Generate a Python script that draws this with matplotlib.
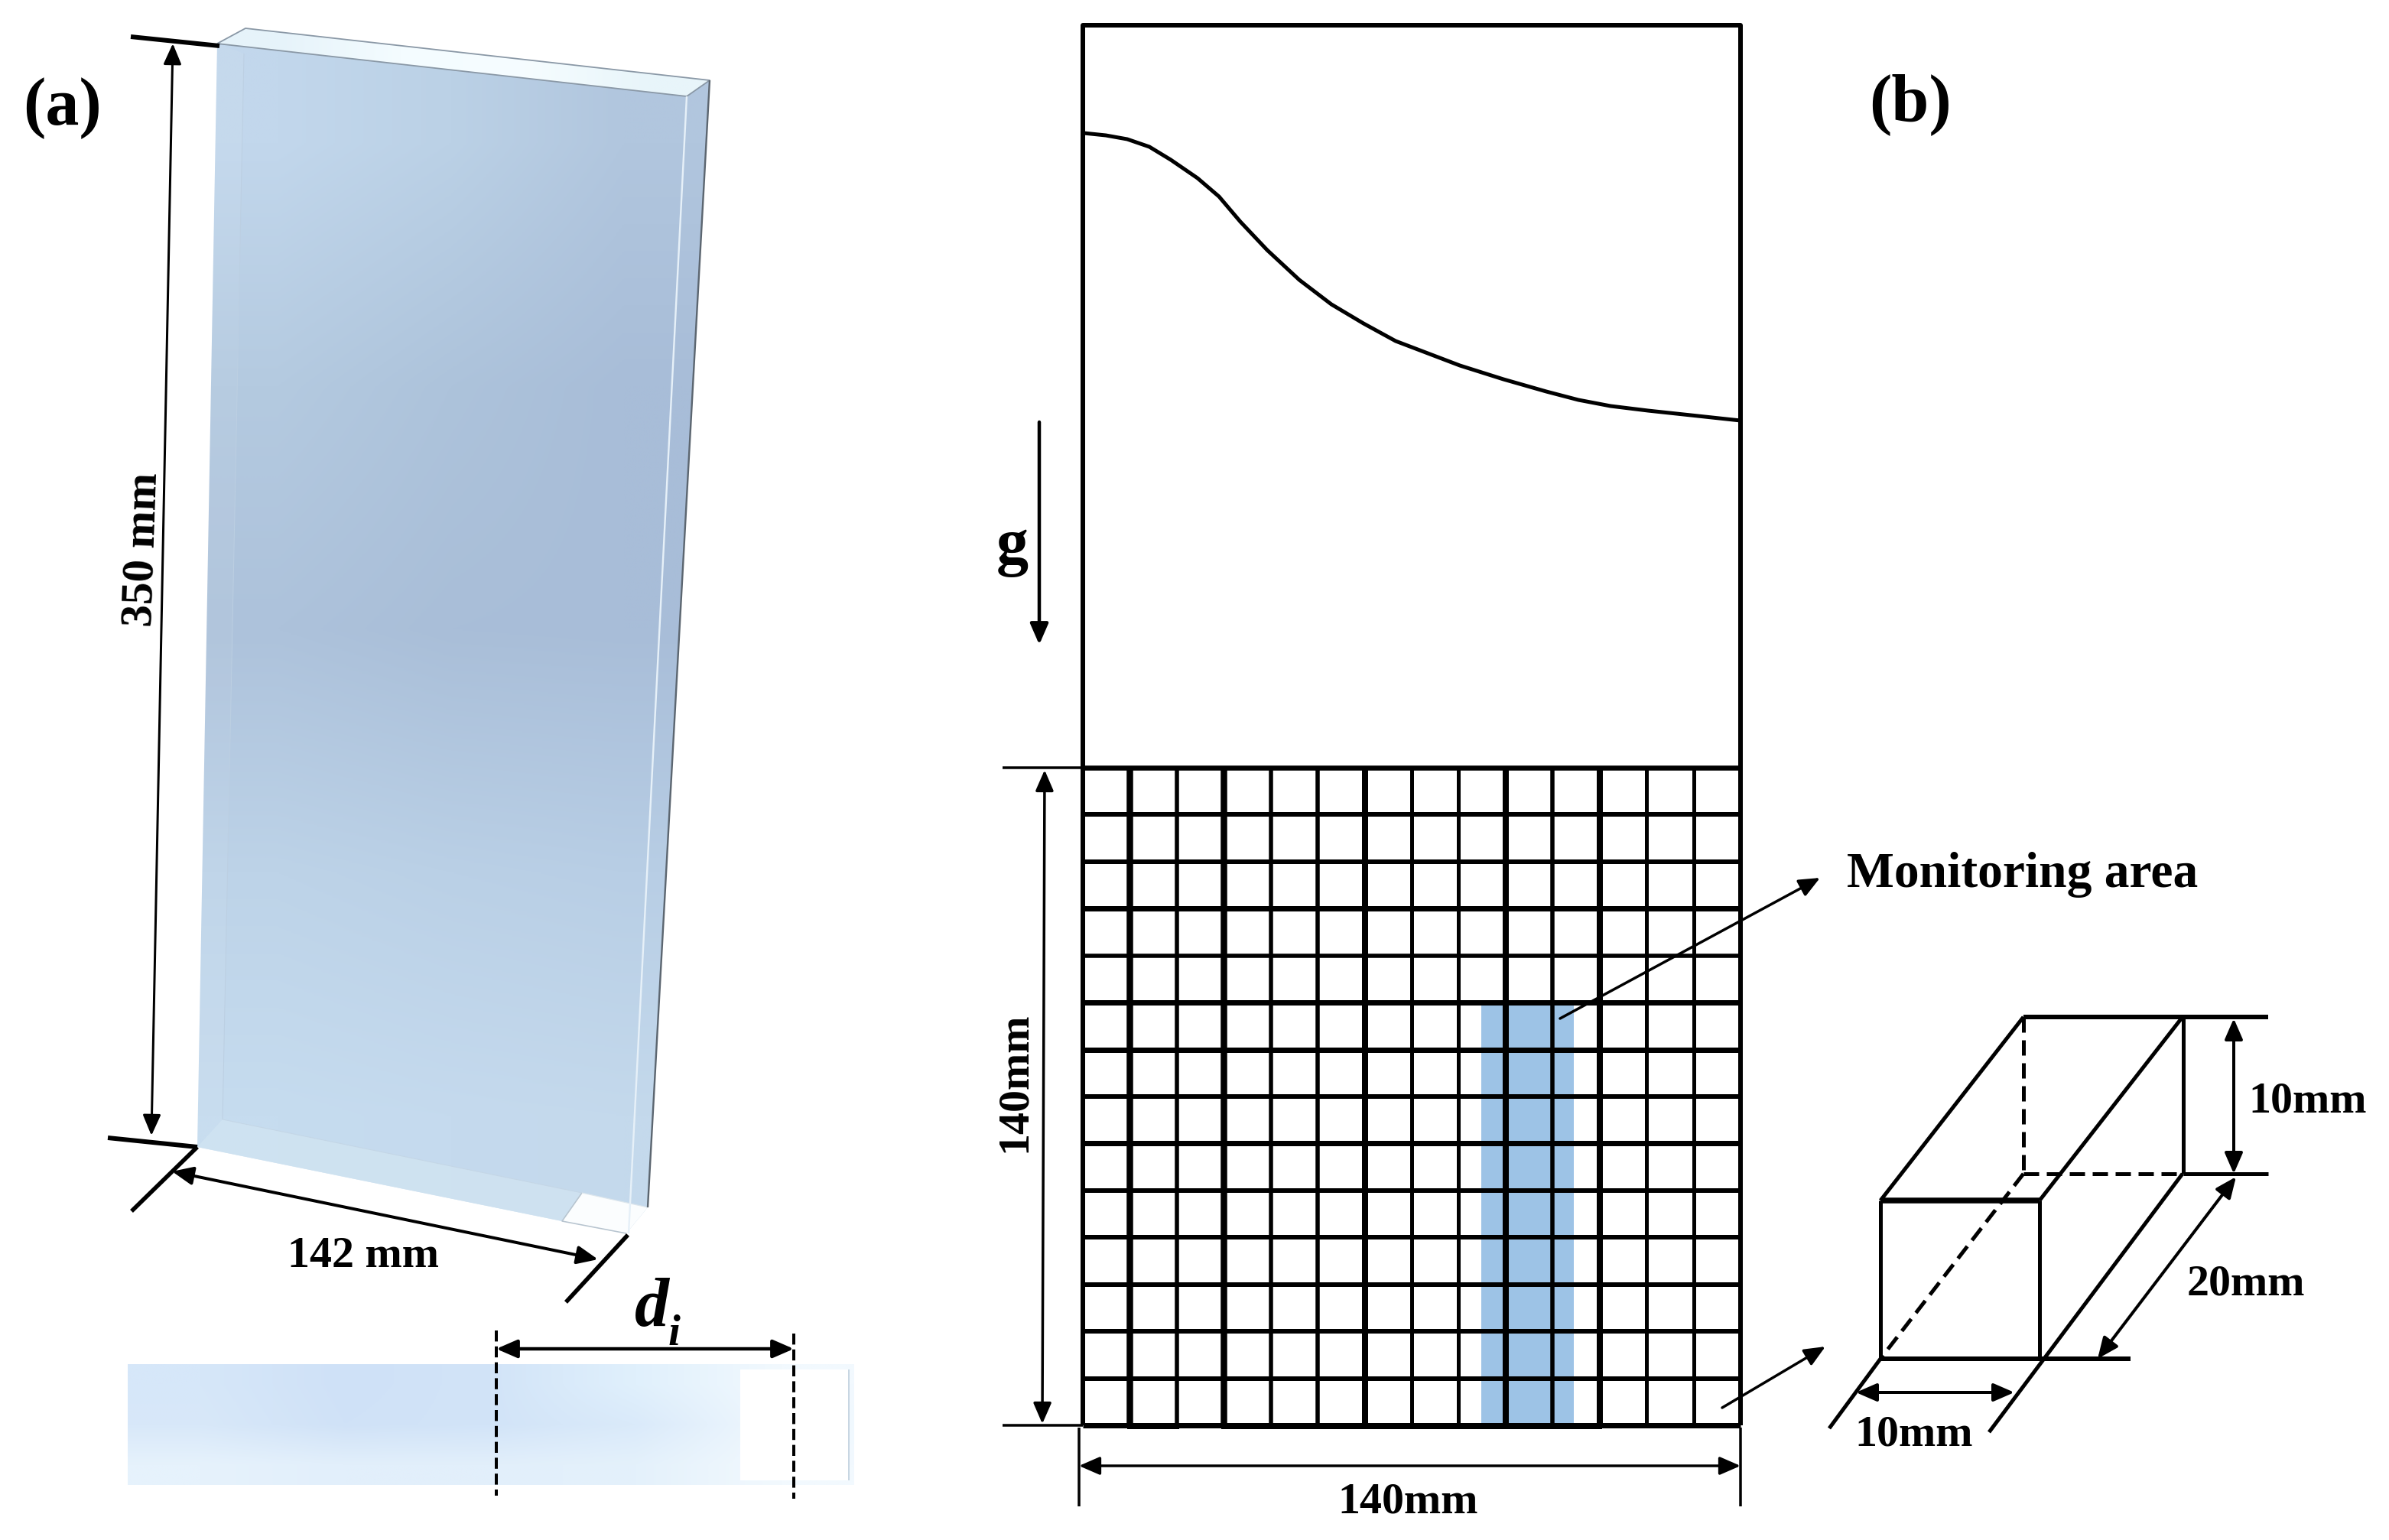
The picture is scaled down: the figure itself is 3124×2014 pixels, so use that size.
import numpy as np
import matplotlib
matplotlib.use('Agg')
import matplotlib.pyplot as plt
from matplotlib.colors import to_rgb
from matplotlib.patches import Polygon, FancyArrowPatch

W, H = 3124, 2015
DPI = 100
FONT = 'Liberation Serif'

# free surface curve in panel (b)
curve_x = [1417, 1446, 1474, 1503, 1531, 1566, 1594, 1622, 1657, 1699, 1741,
           1783, 1825, 1867, 1909, 1966, 2022, 2064, 2106, 2155, 2211, 2276]
curve_y = [175, 178, 183, 193, 210, 234, 258, 291, 328, 367, 399,
           424, 447, 463, 479, 497, 513, 524, 532, 538, 544, 551]

# mesh: 14 x 14 cells, line widths vary in the original
mesh_v_widths = [6, 8.5, 5.5, 8.5, 5.5, 5.5, 8, 5, 5, 8, 5.5, 8, 5, 5, 6]
mesh_h_widths = [6.5, 6, 6, 7, 5.5, 7, 7, 6, 7, 6, 6, 6, 6, 6, 7]
monitor_cols = (1937, 2058)

plate_colors = [['#c2d7ec', '#bbd1e6', '#b1c6de'],
                ['#b4cae0', '#adc3db', '#a8bdd8'],
                ['#adc2db', '#a9bed8', '#a8bdd8'],
                ['#bdd3e8', '#bad0e6', '#b8cee5'],
                ['#c6dcef', '#c5daee', '#c4d9ec']]
band_colors = [['#d6e7f9', '#cfe1f7', '#d2e4f8', '#e0f0fc', '#f2f9fe'],
               ['#d8e8f9', '#d0e2f7', '#d2e4f8', '#daeafa', '#f0f8fe'],
               ['#e6f2fc', '#e2effb', '#e2effb', '#e4f1fb', '#f2f9fe']]

fig = plt.figure(figsize=(W / DPI, H / DPI), dpi=DPI)
ax = fig.add_axes([0, 0, 1, 1])


def pt(px):
    # sizes below are measured in pixels of the reference
    return px * 72 / DPI


def line(xs, ys, px=3.0, color='black', dash=None, z=5):
    ls = '-' if dash is None else (0, dash)
    ax.plot(xs, ys, color=color, lw=pt(px), ls=ls, zorder=z,
            solid_capstyle='butt', dash_capstyle='butt', solid_joinstyle='round')


def arrow(a, b, px=3.0, both=True, hl=23, hw=10):
    style = '<|-|>' if both else '-|>'
    style += ',head_length=%.2f,head_width=%.2f' % (pt(hl), pt(hw))
    ax.add_patch(FancyArrowPatch(a, b, arrowstyle=style, mutation_scale=1,
                                 shrinkA=0, shrinkB=0, lw=pt(px), color='black',
                                 zorder=7))


def label(x, y, s, px=58, rot=0, style='normal', ha='center', va='center'):
    # matplotlib centres on the box with descent, nudge to the reference position
    if rot == 0:
        y += 4
    else:
        x += 4
    ax.text(x, y, s, fontsize=pt(px), family=FONT, weight='bold', style=style,
            rotation=rot, ha=ha, va=va, color='black', zorder=8)


def gradient(colors, extent, poly=None, z=2):
    img = np.array([[to_rgb(c) for c in row] for row in colors])
    im = ax.imshow(img, extent=extent, interpolation='bilinear', aspect='auto', zorder=z)
    if poly is not None:
        patch = Polygon(poly, closed=True, transform=ax.transData, fc='none', ec='none')
        ax.add_patch(patch)
        im.set_clip_path(patch)


# ---- panel (a): the plate ----
front = [(284, 58), (898, 127), (847, 1580), (819, 1614), (735, 1598), (258, 1501)]
side = [(898, 127), (928, 106), (847, 1580), (822, 1560)]
gradient(plate_colors, (250, 930, 1620, 30), front)
gradient(plate_colors, (250, 930, 1620, 30), side, z=2.1)

top_face = [(284, 58), (321, 38), (928, 106), (898, 127)]
gradient([['#e6f3fa', '#f4fcff', '#f6fdff', '#e8f5fa']], (284, 928, 127, 38), top_face, z=3)
line([284, 321, 928, 898, 284], [58, 38, 106, 127, 58], 1.8, '#8a98a6', z=4)

# lighter strips and the bottom facet
ax.add_patch(Polygon([(284, 58), (319, 71), (291, 1465), (258, 1501)],
                     fc='white', alpha=0.05, ec='none', zorder=3))
ax.add_patch(Polygon([(258, 1501), (291, 1465), (761, 1561), (735, 1598)],
                     fc='#d2e5f2', alpha=0.75, ec='none', zorder=3))
ax.add_patch(Polygon([(761, 1561), (735, 1598), (819, 1614), (847, 1580)],
                     fc='#fbfdfe', ec='none', zorder=3))
line([761, 735, 819], [1561, 1598, 1614], 1.6, '#b7c4cf', z=4)
line([761, 847], [1561, 1580], 1.2, '#dde6ec', z=4)
line([319, 291], [71, 1465], 1.0, '#bccfe2', z=4)
line([291, 761], [1465, 1561], 1.0, '#c4d6e6', z=4)
line([898, 822], [127, 1614], 2.4, '#e6f0f8', z=4)
line([928, 847], [106, 1580], 2.4, '#5c6670', z=4)

# plate dimensions
line([171, 287], [49, 61], 6)
line([141, 258], [1489, 1501], 6)
line([258, 172], [1501, 1585], 5.5)
line([821, 740], [1616, 1704], 5.5)
arrow((226, 58), (198, 1486), 3)
arrow((225, 1533), (782, 1648), 4)
label(183, 719, '350 mm', 59, rot=88)
label(475, 1639, '142 mm', 58)
label(81, 138, '(a)', 88)

# section view below the plate
gradient(band_colors, (167, 1117, 1943, 1785))
ax.add_patch(Polygon([(968, 1792), (1110, 1792), (1110, 1937), (968, 1937)],
                     fc='white', ec='none', zorder=3))
line([1110, 1110], [1792, 1937], 2, '#c8d6e2', z=4)
line([649, 649], [1741, 1957], 4, dash=(3.6, 1.6))
line([1038, 1038], [1745, 1961], 4, dash=(3.6, 1.6))
arrow((649, 1765), (1038, 1765), 4.5)
label(852, 1708, 'd', 90, style='italic')
label(881, 1741, 'i', 57, style='italic')

# ---- panel (b): the tank ----
box_l, box_r = 1416, 2276
box_t, mesh_t, mesh_b = 34, 1005, 1865
ax.add_patch(Polygon([(monitor_cols[0], 1312), (monitor_cols[1], 1312),
                      (monitor_cols[1], mesh_b), (monitor_cols[0], mesh_b)],
                     fc='#9dc3e6', ec='none', zorder=2))
line([box_l, box_l, box_r, box_r], [mesh_t, box_t, box_t, mesh_t], 6)
line(curve_x, curve_y, 5)

mesh_x = np.linspace(box_l, box_r, len(mesh_v_widths))
mesh_y = np.linspace(mesh_t, mesh_b, len(mesh_h_widths))
for x, w in zip(mesh_x, mesh_v_widths):
    line([x, x], [mesh_t, mesh_b], w)
for y, w in zip(mesh_y, mesh_h_widths):
    line([box_l, box_r], [y, y], w)
# bottom edge is heavier under some cells
line([mesh_x[1] - 3, mesh_x[2] + 3], [mesh_b + 1, mesh_b + 1], 8)
line([mesh_x[3] - 3, mesh_x[11] + 3], [mesh_b + 1, mesh_b + 1], 8)

arrow((1359, 553), (1359, 844), 4.5, both=False)
label(1324, 713, 'g', 84)
label(2498, 133, '(b)', 88)

line([1311, box_l], [mesh_t, mesh_t], 3.5)
line([1311, box_l], [mesh_b, mesh_b], 3.5)
arrow((1366, mesh_t + 3), (1363, mesh_b - 2), 3.5)
label(1323, 1415, '140mm', 58, rot=90)

line([1411, 1411], [1868, 1971], 3.5)
line([box_r, box_r], [1868, 1971], 3.5)
arrow((1411, 1918), (box_r, 1918), 3.5)
label(1841, 1961, '140mm', 58)

arrow((2040, 1333), (2380, 1149), 3.5, both=False)
label(2645, 1140, 'Monitoring area', 65.5)
arrow((2252, 1842), (2387, 1762), 3.5, both=False)

# ---- single cell ----
line([2646, 2966], [1331, 1331], 6)
line([2459, 2646], [1571, 1331], 5)
line([2459, 2667], [1571, 1571], 7.5)
line([2459, 2459, 2667, 2667], [1571, 1778, 1778, 1571], 5)
line([2459, 2786], [1778, 1778], 6)
line([2667, 2854], [1571, 1331], 5)
line([2855, 2855], [1331, 1536], 5)
line([2855, 2966], [1536, 1536], 5)
line([2854, 2601], [1536, 1874], 5)
line([2459, 2392], [1778, 1869], 5)
line([2646, 2646], [1331, 1536], 5, dash=(4, 2))
line([2646, 2855], [1536, 1536], 5, dash=(4, 2))
line([2646, 2459], [1536, 1778], 5, dash=(4, 2))
arrow((2921, 1333), (2921, 1536), 4)
arrow((2924, 1540), (2743, 1778), 4)
arrow((2427, 1822), (2634, 1822), 4)
label(3018, 1437, '10mm', 58)
label(2937, 1676, '20mm', 58)
label(2503, 1873, '10mm', 58)

ax.set_xlim(0, W)
ax.set_ylim(H, 0)
ax.axis('off')
fig.savefig('out.png', dpi=DPI)
